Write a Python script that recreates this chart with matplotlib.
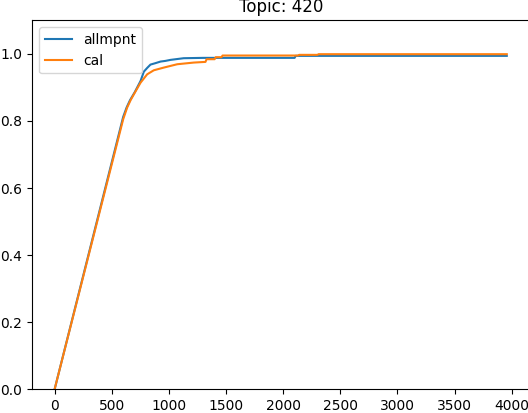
import matplotlib
matplotlib.use("Agg")
import matplotlib.pyplot as plt

title = "Topic: 420"

allmpnt_x = [0, 600, 630, 660, 700, 752, 781, 810, 839, 880, 927, 970, 1014, 1130, 1300, 2100, 2110, 3957]
allmpnt_y = [0, 0.812, 0.840, 0.862, 0.885, 0.919, 0.947, 0.958, 0.968, 0.972, 0.977, 0.979, 0.982, 0.987, 0.988, 0.988, 0.994, 0.994]

cal_x = [0, 600, 635, 665, 693, 752, 810, 868, 955, 1073, 1218, 1320, 1330, 1400, 1410, 1460, 1470, 2130, 2140, 2300, 2310, 3957]
cal_y = [0, 0.805, 0.840, 0.862, 0.879, 0.914, 0.939, 0.951, 0.959, 0.969, 0.974, 0.976, 0.984, 0.984, 0.990, 0.990, 0.995, 0.995, 0.997, 0.997, 0.999, 0.999]

W, H = 528, 413
fig = plt.figure(figsize=(W / 100, H / 100), dpi=100)
ax = fig.add_axes([32 / W, (H - 389.3) / H, (529.4 - 32) / W, (389.3 - 20.3) / H])

ax.plot(allmpnt_x, allmpnt_y, label="allmpnt")
ax.plot(cal_x, cal_y, label="cal")
ax.set_ylim(0, 1.1)
ax.set_title(title)
ax.legend(loc="upper left")

fig.savefig("out.png", dpi=100)
